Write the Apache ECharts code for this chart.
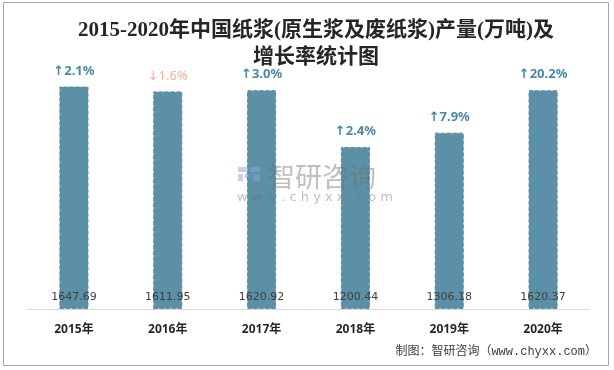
<!DOCTYPE html>
<html>
<head>
<meta charset="utf-8">
<script src="https://cdn.jsdelivr.net/npm/echarts@6/dist/echarts.min.js"></script>
<style>html,body{margin:0;padding:0;background:#fff}#c{width:614px;height:370px}</style>
</head>
<body>
<div id="c"></div>
<script>
var categories = ['2015年', '2016年', '2017年', '2018年', '2019年', '2020年'];
var production = [1647.69, 1611.95, 1620.92, 1200.44, 1306.18, 1620.37];
var growth = [2.1, -1.6, 3.0, 2.4, 7.9, 20.2];

var chart = echarts.init(document.getElementById('c'), null, {renderer: 'canvas'});
var wm = 'rgba(110,110,110,0.45)';
var lg = 'rgba(140,165,215,0.5)';
var option = {
  backgroundColor: '#fff',
  animation: false,
  title: {
    text: '2015-2020年中国纸浆(原生浆及废纸浆)产量(万吨)及\n增长率统计图',
    left: 311, top: 12, textAlign: 'center',
    textStyle: {fontFamily: 'Liberation Serif, Noto Sans CJK SC', fontWeight: 'bold', fontSize: 21, lineHeight: 27, color: '#262626'}
  },
  grid: {left: 27, right: 24, top: 66, bottom: 61},
  xAxis: {
    type: 'category', data: categories,
    axisLine: {lineStyle: {color: '#d9d9d9', width: 1}},
    axisTick: {show: false},
    axisLabel: {margin: 15, fontSize: 12, fontWeight: 'bold', color: '#262626', fontFamily: 'Noto Sans, Noto Sans CJK SC'}
  },
  yAxis: {type: 'value', min: 0, max: 1800, show: false, splitLine: {show: false}},
  series: [
    {
      type: 'bar', data: production, barWidth: '31%',
      itemStyle: {color: '#5b90a7', borderColor: '#5a8ca3', borderWidth: 1, borderType: 'dashed'},
      label: {show: true, position: 'insideBottom', distance: 6, fontSize: 11, color: '#404040', fontFamily: 'DejaVu Sans'},
      z: 2
    },
    {
      type: 'scatter', data: production, symbolSize: 0,
      label: {
        show: true, position: 'top', distance: 9,
        formatter: function (p) {
          var g = growth[p.dataIndex];
          return g >= 0 ? '{u|↑' + g.toFixed(1) + '%}' : '{d|↓' + Math.abs(g).toFixed(1) + '%}';
        },
        rich: {
          u: {color: '#1c6b90', fontSize: 13, fontWeight: 'bold', fontFamily: 'Noto Sans, DejaVu Sans'},
          d: {color: '#f29a86', fontSize: 13, fontFamily: 'Noto Sans, DejaVu Sans'}
        }
      },
      z: 3
    }
  ],
  graphic: [
    {type: 'rect', shape: {x: 3.5, y: 2.5, width: 605, height: 363}, style: {fill: 'none', stroke: '#a6a6a6', lineWidth: 1}, silent: true, z: 100},
    {type: 'rect', z: 50, silent: true, shape: {x: 238, y: 167, width: 10, height: 5}, style: {fill: lg}},
    {type: 'rect', z: 50, silent: true, shape: {x: 250, y: 167, width: 10, height: 5}, style: {fill: lg}},
    {type: 'rect', z: 50, silent: true, shape: {x: 238, y: 174, width: 5, height: 7}, style: {fill: lg}},
    {type: 'rect', z: 50, silent: true, shape: {x: 245, y: 174, width: 6, height: 4}, style: {fill: 'rgba(110,150,220,0.5)'}},
    {type: 'rect', z: 50, silent: true, shape: {x: 253, y: 174, width: 7, height: 7}, style: {fill: lg}},
    {type: 'text', z: 50, silent: true, x: 268, y: 177, style: {text: '智研咨询', fontSize: 27, fontFamily: 'Noto Sans CJK SC', fill: wm, verticalAlign: 'middle'}},
    {type: 'text', z: 50, silent: true, x: 237, y: 198, style: {text: 'w w w . c h y x x . c o m', fontSize: 13, fontFamily: 'DejaVu Sans', fill: wm, verticalAlign: 'middle'}},
    {type: 'text', right: 17, top: 346, style: {text: '制图：智研咨询（www.chyxx.com）', fontSize: 12, fontFamily: 'Liberation Mono, Noto Sans CJK SC', fill: '#404040'}, z: 60}
  ]
};
chart.setOption(option);
</script>
</body>
</html>
